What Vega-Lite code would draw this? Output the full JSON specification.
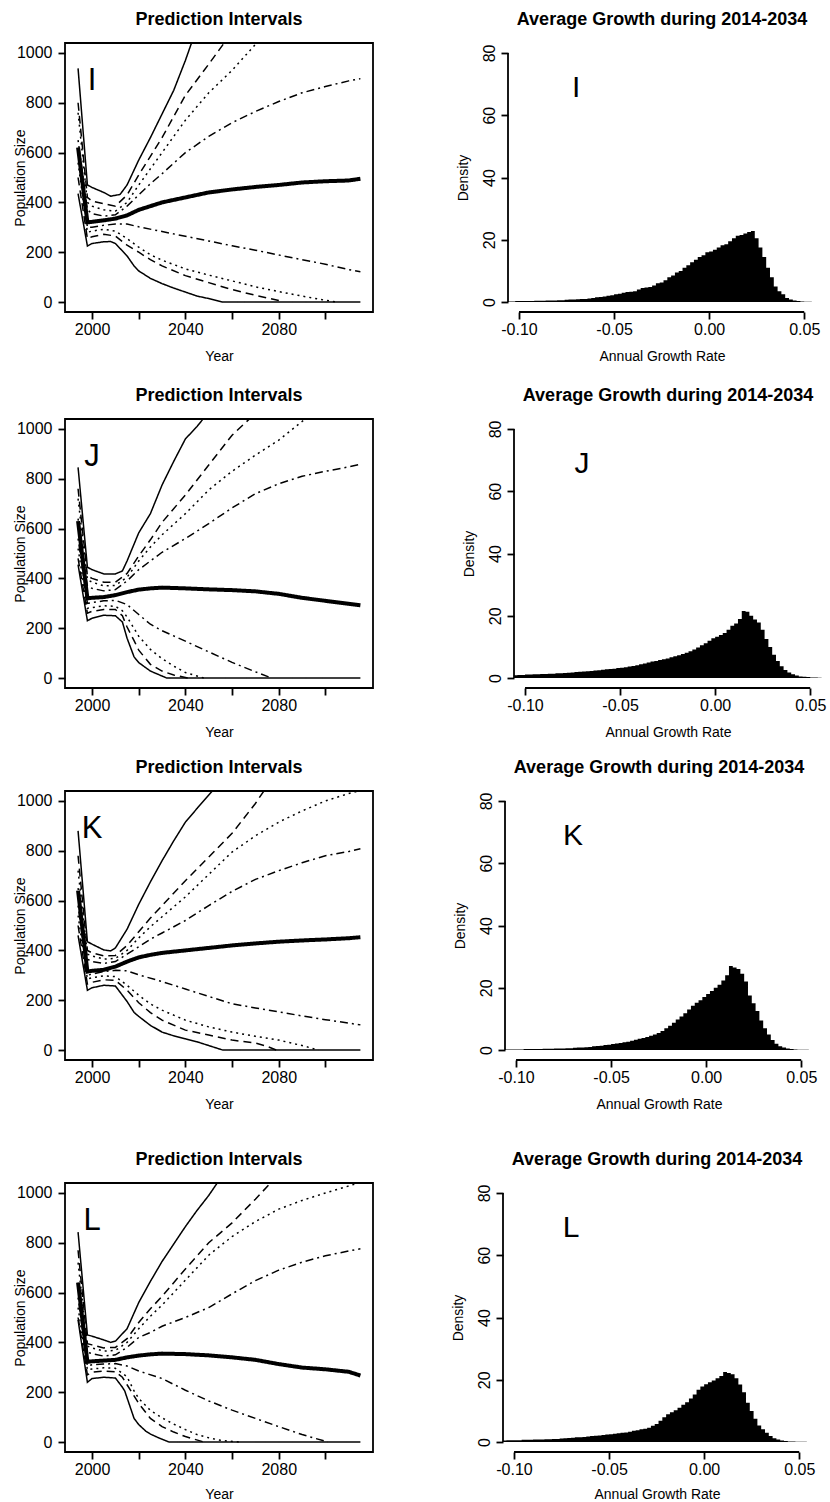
{
"$schema": "https://vega.github.io/schema/vega-lite/v6.json",
"background": "white",
"padding": {"left": 12, "top": 10, "right": 5, "bottom": 0},
"config": {
  "font": "Liberation Sans",
  "view": {"stroke": null},
  "axis": {"labelFont": "Liberation Sans", "titleFont": "Liberation Sans", "labelColor": "black", "titleColor": "black", "tickColor": "black", "tickWidth": 1.8, "tickSize": 7, "labelFontSize": 16, "titleFontSize": 14, "titleFontWeight": "normal", "grid": false, "labelOverlap": false, "labelFlush": false, "domain": false},
  "title": {"font": "Liberation Sans", "fontSize": 18, "fontWeight": "bold", "color": "black", "anchor": "middle", "frame": "group", "baseline": "alphabetic", "offset": 14}
},
"datasets": {
"lines": [
{"p":"I","q":"s+","x":1994,"y":938},{"p":"I","q":"s+","x":1998,"y":470},{"p":"I","q":"s+","x":2000,"y":460},{"p":"I","q":"s+","x":2005,"y":440},{"p":"I","q":"s+","x":2008,"y":425},{"p":"I","q":"s+","x":2012,"y":432},{"p":"I","q":"s+","x":2015,"y":470},{"p":"I","q":"s+","x":2020,"y":570},{"p":"I","q":"s+","x":2025,"y":660},{"p":"I","q":"s+","x":2030,"y":755},{"p":"I","q":"s+","x":2035,"y":850},{"p":"I","q":"s+","x":2040,"y":970},{"p":"I","q":"s+","x":2043,"y":1050},
{"p":"I","q":"d+","x":1994,"y":800},{"p":"I","q":"d+","x":1998,"y":420},{"p":"I","q":"d+","x":2000,"y":405},{"p":"I","q":"d+","x":2005,"y":395},{"p":"I","q":"d+","x":2010,"y":385},{"p":"I","q":"d+","x":2015,"y":430},{"p":"I","q":"d+","x":2020,"y":510},{"p":"I","q":"d+","x":2025,"y":585},{"p":"I","q":"d+","x":2030,"y":660},{"p":"I","q":"d+","x":2040,"y":830},{"p":"I","q":"d+","x":2050,"y":955},{"p":"I","q":"d+","x":2057,"y":1045},
{"p":"I","q":"p+","x":1994,"y":760},{"p":"I","q":"p+","x":1998,"y":400},{"p":"I","q":"p+","x":2000,"y":385},{"p":"I","q":"p+","x":2005,"y":370},{"p":"I","q":"p+","x":2010,"y":365},{"p":"I","q":"p+","x":2015,"y":400},{"p":"I","q":"p+","x":2020,"y":470},{"p":"I","q":"p+","x":2025,"y":535},{"p":"I","q":"p+","x":2030,"y":600},{"p":"I","q":"p+","x":2040,"y":730},{"p":"I","q":"p+","x":2050,"y":840},{"p":"I","q":"p+","x":2060,"y":930},{"p":"I","q":"p+","x":2071,"y":1045},
{"p":"I","q":"a+","x":1994,"y":650},{"p":"I","q":"a+","x":1998,"y":370},{"p":"I","q":"a+","x":2000,"y":355},{"p":"I","q":"a+","x":2005,"y":345},{"p":"I","q":"a+","x":2010,"y":350},{"p":"I","q":"a+","x":2015,"y":385},{"p":"I","q":"a+","x":2020,"y":430},{"p":"I","q":"a+","x":2025,"y":475},{"p":"I","q":"a+","x":2030,"y":515},{"p":"I","q":"a+","x":2040,"y":600},{"p":"I","q":"a+","x":2050,"y":665},{"p":"I","q":"a+","x":2060,"y":720},{"p":"I","q":"a+","x":2070,"y":765},{"p":"I","q":"a+","x":2080,"y":805},{"p":"I","q":"a+","x":2090,"y":840},{"p":"I","q":"a+","x":2100,"y":865},{"p":"I","q":"a+","x":2110,"y":888},{"p":"I","q":"a+","x":2115,"y":897},
{"p":"I","q":"m","x":1994,"y":620},{"p":"I","q":"m","x":1998,"y":320},{"p":"I","q":"m","x":2000,"y":322},{"p":"I","q":"m","x":2005,"y":328},{"p":"I","q":"m","x":2010,"y":335},{"p":"I","q":"m","x":2015,"y":348},{"p":"I","q":"m","x":2020,"y":370},{"p":"I","q":"m","x":2025,"y":385},{"p":"I","q":"m","x":2030,"y":400},{"p":"I","q":"m","x":2040,"y":420},{"p":"I","q":"m","x":2050,"y":440},{"p":"I","q":"m","x":2060,"y":452},{"p":"I","q":"m","x":2070,"y":462},{"p":"I","q":"m","x":2080,"y":470},{"p":"I","q":"m","x":2090,"y":480},{"p":"I","q":"m","x":2100,"y":485},{"p":"I","q":"m","x":2110,"y":488},{"p":"I","q":"m","x":2115,"y":495},
{"p":"I","q":"a-","x":1994,"y":600},{"p":"I","q":"a-","x":1998,"y":300},{"p":"I","q":"a-","x":2000,"y":300},{"p":"I","q":"a-","x":2005,"y":308},{"p":"I","q":"a-","x":2010,"y":313},{"p":"I","q":"a-","x":2015,"y":313},{"p":"I","q":"a-","x":2020,"y":302},{"p":"I","q":"a-","x":2030,"y":283},{"p":"I","q":"a-","x":2040,"y":264},{"p":"I","q":"a-","x":2050,"y":245},{"p":"I","q":"a-","x":2060,"y":226},{"p":"I","q":"a-","x":2070,"y":208},{"p":"I","q":"a-","x":2080,"y":189},{"p":"I","q":"a-","x":2090,"y":170},{"p":"I","q":"a-","x":2100,"y":152},{"p":"I","q":"a-","x":2110,"y":130},{"p":"I","q":"a-","x":2115,"y":122},
{"p":"I","q":"p-","x":1994,"y":560},{"p":"I","q":"p-","x":1998,"y":280},{"p":"I","q":"p-","x":2000,"y":285},{"p":"I","q":"p-","x":2005,"y":292},{"p":"I","q":"p-","x":2010,"y":285},{"p":"I","q":"p-","x":2015,"y":255},{"p":"I","q":"p-","x":2020,"y":220},{"p":"I","q":"p-","x":2025,"y":190},{"p":"I","q":"p-","x":2030,"y":168},{"p":"I","q":"p-","x":2040,"y":133},{"p":"I","q":"p-","x":2050,"y":108},{"p":"I","q":"p-","x":2060,"y":85},{"p":"I","q":"p-","x":2070,"y":61},{"p":"I","q":"p-","x":2080,"y":42},{"p":"I","q":"p-","x":2090,"y":24},{"p":"I","q":"p-","x":2100,"y":7},{"p":"I","q":"p-","x":2105,"y":0},
{"p":"I","q":"d-","x":1994,"y":500},{"p":"I","q":"d-","x":1998,"y":255},{"p":"I","q":"d-","x":2000,"y":262},{"p":"I","q":"d-","x":2005,"y":272},{"p":"I","q":"d-","x":2010,"y":265},{"p":"I","q":"d-","x":2015,"y":228},{"p":"I","q":"d-","x":2020,"y":200},{"p":"I","q":"d-","x":2025,"y":170},{"p":"I","q":"d-","x":2030,"y":145},{"p":"I","q":"d-","x":2040,"y":106},{"p":"I","q":"d-","x":2050,"y":78},{"p":"I","q":"d-","x":2060,"y":50},{"p":"I","q":"d-","x":2070,"y":27},{"p":"I","q":"d-","x":2080,"y":6},{"p":"I","q":"d-","x":2082,"y":0},
{"p":"I","q":"s-","x":1994,"y":435},{"p":"I","q":"s-","x":1998,"y":225},{"p":"I","q":"s-","x":2000,"y":235},{"p":"I","q":"s-","x":2005,"y":242},{"p":"I","q":"s-","x":2008,"y":243},{"p":"I","q":"s-","x":2010,"y":235},{"p":"I","q":"s-","x":2012,"y":215},{"p":"I","q":"s-","x":2015,"y":185},{"p":"I","q":"s-","x":2018,"y":145},{"p":"I","q":"s-","x":2020,"y":125},{"p":"I","q":"s-","x":2025,"y":95},{"p":"I","q":"s-","x":2030,"y":74},{"p":"I","q":"s-","x":2035,"y":56},{"p":"I","q":"s-","x":2040,"y":40},{"p":"I","q":"s-","x":2045,"y":24},{"p":"I","q":"s-","x":2050,"y":14},{"p":"I","q":"s-","x":2056,"y":0},{"p":"I","q":"s-","x":2115,"y":0},
{"p":"J","q":"s+","x":1994,"y":846},{"p":"J","q":"s+","x":1998,"y":445},{"p":"J","q":"s+","x":2000,"y":435},{"p":"J","q":"s+","x":2005,"y":418},{"p":"J","q":"s+","x":2010,"y":418},{"p":"J","q":"s+","x":2013,"y":430},{"p":"J","q":"s+","x":2015,"y":470},{"p":"J","q":"s+","x":2020,"y":583},{"p":"J","q":"s+","x":2025,"y":660},{"p":"J","q":"s+","x":2030,"y":775},{"p":"J","q":"s+","x":2035,"y":870},{"p":"J","q":"s+","x":2040,"y":960},{"p":"J","q":"s+","x":2045,"y":1010},{"p":"J","q":"s+","x":2048,"y":1045},
{"p":"J","q":"d+","x":1994,"y":760},{"p":"J","q":"d+","x":1998,"y":410},{"p":"J","q":"d+","x":2000,"y":400},{"p":"J","q":"d+","x":2005,"y":385},{"p":"J","q":"d+","x":2010,"y":385},{"p":"J","q":"d+","x":2015,"y":420},{"p":"J","q":"d+","x":2020,"y":490},{"p":"J","q":"d+","x":2025,"y":555},{"p":"J","q":"d+","x":2030,"y":625},{"p":"J","q":"d+","x":2040,"y":735},{"p":"J","q":"d+","x":2050,"y":855},{"p":"J","q":"d+","x":2060,"y":975},{"p":"J","q":"d+","x":2068,"y":1045},
{"p":"J","q":"p+","x":1994,"y":720},{"p":"J","q":"p+","x":1998,"y":395},{"p":"J","q":"p+","x":2000,"y":385},{"p":"J","q":"p+","x":2005,"y":370},{"p":"J","q":"p+","x":2010,"y":372},{"p":"J","q":"p+","x":2015,"y":405},{"p":"J","q":"p+","x":2020,"y":470},{"p":"J","q":"p+","x":2025,"y":526},{"p":"J","q":"p+","x":2030,"y":575},{"p":"J","q":"p+","x":2040,"y":660},{"p":"J","q":"p+","x":2050,"y":755},{"p":"J","q":"p+","x":2060,"y":830},{"p":"J","q":"p+","x":2070,"y":895},{"p":"J","q":"p+","x":2080,"y":955},{"p":"J","q":"p+","x":2090,"y":1030},{"p":"J","q":"p+","x":2092,"y":1045},
{"p":"J","q":"a+","x":1994,"y":640},{"p":"J","q":"a+","x":1998,"y":370},{"p":"J","q":"a+","x":2000,"y":360},{"p":"J","q":"a+","x":2005,"y":350},{"p":"J","q":"a+","x":2010,"y":355},{"p":"J","q":"a+","x":2015,"y":390},{"p":"J","q":"a+","x":2020,"y":435},{"p":"J","q":"a+","x":2025,"y":470},{"p":"J","q":"a+","x":2030,"y":505},{"p":"J","q":"a+","x":2040,"y":560},{"p":"J","q":"a+","x":2050,"y":620},{"p":"J","q":"a+","x":2060,"y":683},{"p":"J","q":"a+","x":2070,"y":740},{"p":"J","q":"a+","x":2080,"y":780},{"p":"J","q":"a+","x":2090,"y":810},{"p":"J","q":"a+","x":2100,"y":830},{"p":"J","q":"a+","x":2110,"y":848},{"p":"J","q":"a+","x":2115,"y":858},
{"p":"J","q":"m","x":1994,"y":630},{"p":"J","q":"m","x":1998,"y":320},{"p":"J","q":"m","x":2000,"y":322},{"p":"J","q":"m","x":2005,"y":325},{"p":"J","q":"m","x":2010,"y":333},{"p":"J","q":"m","x":2015,"y":345},{"p":"J","q":"m","x":2020,"y":355},{"p":"J","q":"m","x":2025,"y":360},{"p":"J","q":"m","x":2030,"y":363},{"p":"J","q":"m","x":2040,"y":360},{"p":"J","q":"m","x":2050,"y":356},{"p":"J","q":"m","x":2060,"y":353},{"p":"J","q":"m","x":2070,"y":348},{"p":"J","q":"m","x":2080,"y":338},{"p":"J","q":"m","x":2090,"y":322},{"p":"J","q":"m","x":2100,"y":310},{"p":"J","q":"m","x":2110,"y":298},{"p":"J","q":"m","x":2115,"y":292},
{"p":"J","q":"a-","x":1994,"y":560},{"p":"J","q":"a-","x":1998,"y":300},{"p":"J","q":"a-","x":2000,"y":303},{"p":"J","q":"a-","x":2005,"y":310},{"p":"J","q":"a-","x":2010,"y":312},{"p":"J","q":"a-","x":2015,"y":295},{"p":"J","q":"a-","x":2020,"y":255},{"p":"J","q":"a-","x":2025,"y":216},{"p":"J","q":"a-","x":2030,"y":190},{"p":"J","q":"a-","x":2040,"y":148},{"p":"J","q":"a-","x":2050,"y":105},{"p":"J","q":"a-","x":2060,"y":63},{"p":"J","q":"a-","x":2070,"y":25},{"p":"J","q":"a-","x":2077,"y":0},
{"p":"J","q":"p-","x":1994,"y":520},{"p":"J","q":"p-","x":1998,"y":280},{"p":"J","q":"p-","x":2000,"y":283},{"p":"J","q":"p-","x":2005,"y":290},{"p":"J","q":"p-","x":2010,"y":288},{"p":"J","q":"p-","x":2013,"y":270},{"p":"J","q":"p-","x":2015,"y":245},{"p":"J","q":"p-","x":2020,"y":168},{"p":"J","q":"p-","x":2025,"y":115},{"p":"J","q":"p-","x":2030,"y":78},{"p":"J","q":"p-","x":2035,"y":48},{"p":"J","q":"p-","x":2040,"y":22},{"p":"J","q":"p-","x":2048,"y":0},
{"p":"J","q":"d-","x":1994,"y":480},{"p":"J","q":"d-","x":1998,"y":260},{"p":"J","q":"d-","x":2000,"y":268},{"p":"J","q":"d-","x":2005,"y":275},{"p":"J","q":"d-","x":2010,"y":275},{"p":"J","q":"d-","x":2013,"y":250},{"p":"J","q":"d-","x":2015,"y":205},{"p":"J","q":"d-","x":2018,"y":150},{"p":"J","q":"d-","x":2020,"y":112},{"p":"J","q":"d-","x":2025,"y":55},{"p":"J","q":"d-","x":2030,"y":28},{"p":"J","q":"d-","x":2035,"y":12},{"p":"J","q":"d-","x":2041,"y":0},
{"p":"J","q":"s-","x":1994,"y":455},{"p":"J","q":"s-","x":1998,"y":230},{"p":"J","q":"s-","x":2000,"y":240},{"p":"J","q":"s-","x":2005,"y":252},{"p":"J","q":"s-","x":2010,"y":250},{"p":"J","q":"s-","x":2013,"y":225},{"p":"J","q":"s-","x":2015,"y":160},{"p":"J","q":"s-","x":2018,"y":85},{"p":"J","q":"s-","x":2020,"y":62},{"p":"J","q":"s-","x":2025,"y":28},{"p":"J","q":"s-","x":2030,"y":8},{"p":"J","q":"s-","x":2032,"y":0},{"p":"J","q":"s-","x":2115,"y":0},
{"p":"K","q":"s+","x":1994,"y":880},{"p":"K","q":"s+","x":1998,"y":435},{"p":"K","q":"s+","x":2000,"y":425},{"p":"K","q":"s+","x":2005,"y":402},{"p":"K","q":"s+","x":2008,"y":398},{"p":"K","q":"s+","x":2010,"y":410},{"p":"K","q":"s+","x":2015,"y":485},{"p":"K","q":"s+","x":2020,"y":585},{"p":"K","q":"s+","x":2025,"y":675},{"p":"K","q":"s+","x":2030,"y":760},{"p":"K","q":"s+","x":2035,"y":840},{"p":"K","q":"s+","x":2040,"y":915},{"p":"K","q":"s+","x":2045,"y":970},{"p":"K","q":"s+","x":2052,"y":1045},
{"p":"K","q":"d+","x":1994,"y":780},{"p":"K","q":"d+","x":1998,"y":400},{"p":"K","q":"d+","x":2000,"y":390},{"p":"K","q":"d+","x":2005,"y":378},{"p":"K","q":"d+","x":2010,"y":380},{"p":"K","q":"d+","x":2015,"y":420},{"p":"K","q":"d+","x":2020,"y":475},{"p":"K","q":"d+","x":2025,"y":530},{"p":"K","q":"d+","x":2030,"y":580},{"p":"K","q":"d+","x":2040,"y":680},{"p":"K","q":"d+","x":2050,"y":775},{"p":"K","q":"d+","x":2060,"y":870},{"p":"K","q":"d+","x":2070,"y":990},{"p":"K","q":"d+","x":2074,"y":1045},
{"p":"K","q":"p+","x":1994,"y":720},{"p":"K","q":"p+","x":1998,"y":385},{"p":"K","q":"p+","x":2000,"y":378},{"p":"K","q":"p+","x":2005,"y":365},{"p":"K","q":"p+","x":2010,"y":368},{"p":"K","q":"p+","x":2015,"y":400},{"p":"K","q":"p+","x":2020,"y":450},{"p":"K","q":"p+","x":2025,"y":495},{"p":"K","q":"p+","x":2030,"y":535},{"p":"K","q":"p+","x":2040,"y":615},{"p":"K","q":"p+","x":2050,"y":705},{"p":"K","q":"p+","x":2060,"y":795},{"p":"K","q":"p+","x":2070,"y":860},{"p":"K","q":"p+","x":2080,"y":915},{"p":"K","q":"p+","x":2090,"y":960},{"p":"K","q":"p+","x":2100,"y":1000},{"p":"K","q":"p+","x":2110,"y":1030},{"p":"K","q":"p+","x":2115,"y":1042},
{"p":"K","q":"a+","x":1994,"y":650},{"p":"K","q":"a+","x":1998,"y":365},{"p":"K","q":"a+","x":2000,"y":355},{"p":"K","q":"a+","x":2005,"y":348},{"p":"K","q":"a+","x":2010,"y":355},{"p":"K","q":"a+","x":2015,"y":385},{"p":"K","q":"a+","x":2020,"y":415},{"p":"K","q":"a+","x":2025,"y":445},{"p":"K","q":"a+","x":2030,"y":470},{"p":"K","q":"a+","x":2040,"y":520},{"p":"K","q":"a+","x":2050,"y":580},{"p":"K","q":"a+","x":2060,"y":637},{"p":"K","q":"a+","x":2070,"y":685},{"p":"K","q":"a+","x":2080,"y":720},{"p":"K","q":"a+","x":2090,"y":752},{"p":"K","q":"a+","x":2100,"y":780},{"p":"K","q":"a+","x":2110,"y":797},{"p":"K","q":"a+","x":2115,"y":808},
{"p":"K","q":"m","x":1994,"y":640},{"p":"K","q":"m","x":1998,"y":315},{"p":"K","q":"m","x":2000,"y":318},{"p":"K","q":"m","x":2005,"y":322},{"p":"K","q":"m","x":2010,"y":335},{"p":"K","q":"m","x":2015,"y":355},{"p":"K","q":"m","x":2020,"y":372},{"p":"K","q":"m","x":2025,"y":382},{"p":"K","q":"m","x":2030,"y":390},{"p":"K","q":"m","x":2040,"y":400},{"p":"K","q":"m","x":2050,"y":410},{"p":"K","q":"m","x":2060,"y":420},{"p":"K","q":"m","x":2070,"y":428},{"p":"K","q":"m","x":2080,"y":435},{"p":"K","q":"m","x":2090,"y":440},{"p":"K","q":"m","x":2100,"y":444},{"p":"K","q":"m","x":2110,"y":449},{"p":"K","q":"m","x":2115,"y":453},
{"p":"K","q":"a-","x":1994,"y":580},{"p":"K","q":"a-","x":1998,"y":300},{"p":"K","q":"a-","x":2000,"y":305},{"p":"K","q":"a-","x":2005,"y":315},{"p":"K","q":"a-","x":2010,"y":320},{"p":"K","q":"a-","x":2015,"y":318},{"p":"K","q":"a-","x":2020,"y":302},{"p":"K","q":"a-","x":2030,"y":275},{"p":"K","q":"a-","x":2040,"y":245},{"p":"K","q":"a-","x":2050,"y":215},{"p":"K","q":"a-","x":2060,"y":186},{"p":"K","q":"a-","x":2070,"y":169},{"p":"K","q":"a-","x":2080,"y":153},{"p":"K","q":"a-","x":2090,"y":137},{"p":"K","q":"a-","x":2100,"y":122},{"p":"K","q":"a-","x":2110,"y":108},{"p":"K","q":"a-","x":2115,"y":101},
{"p":"K","q":"p-","x":1994,"y":540},{"p":"K","q":"p-","x":1998,"y":285},{"p":"K","q":"p-","x":2000,"y":290},{"p":"K","q":"p-","x":2005,"y":298},{"p":"K","q":"p-","x":2010,"y":295},{"p":"K","q":"p-","x":2015,"y":260},{"p":"K","q":"p-","x":2020,"y":220},{"p":"K","q":"p-","x":2025,"y":185},{"p":"K","q":"p-","x":2030,"y":160},{"p":"K","q":"p-","x":2040,"y":120},{"p":"K","q":"p-","x":2050,"y":93},{"p":"K","q":"p-","x":2060,"y":72},{"p":"K","q":"p-","x":2070,"y":55},{"p":"K","q":"p-","x":2080,"y":40},{"p":"K","q":"p-","x":2090,"y":18},{"p":"K","q":"p-","x":2097,"y":0},
{"p":"K","q":"d-","x":1994,"y":500},{"p":"K","q":"d-","x":1998,"y":265},{"p":"K","q":"d-","x":2000,"y":272},{"p":"K","q":"d-","x":2005,"y":282},{"p":"K","q":"d-","x":2010,"y":280},{"p":"K","q":"d-","x":2015,"y":240},{"p":"K","q":"d-","x":2020,"y":190},{"p":"K","q":"d-","x":2025,"y":150},{"p":"K","q":"d-","x":2030,"y":120},{"p":"K","q":"d-","x":2040,"y":80},{"p":"K","q":"d-","x":2050,"y":60},{"p":"K","q":"d-","x":2060,"y":40},{"p":"K","q":"d-","x":2070,"y":28},{"p":"K","q":"d-","x":2075,"y":15},{"p":"K","q":"d-","x":2079,"y":0},
{"p":"K","q":"s-","x":1994,"y":460},{"p":"K","q":"s-","x":1998,"y":240},{"p":"K","q":"s-","x":2000,"y":250},{"p":"K","q":"s-","x":2005,"y":260},{"p":"K","q":"s-","x":2010,"y":257},{"p":"K","q":"s-","x":2015,"y":195},{"p":"K","q":"s-","x":2018,"y":151},{"p":"K","q":"s-","x":2020,"y":135},{"p":"K","q":"s-","x":2025,"y":99},{"p":"K","q":"s-","x":2030,"y":72},{"p":"K","q":"s-","x":2035,"y":57},{"p":"K","q":"s-","x":2040,"y":45},{"p":"K","q":"s-","x":2045,"y":33},{"p":"K","q":"s-","x":2050,"y":18},{"p":"K","q":"s-","x":2056,"y":0},{"p":"K","q":"s-","x":2115,"y":0},
{"p":"L","q":"s+","x":1994,"y":843},{"p":"L","q":"s+","x":1998,"y":430},{"p":"L","q":"s+","x":2000,"y":425},{"p":"L","q":"s+","x":2005,"y":410},{"p":"L","q":"s+","x":2008,"y":400},{"p":"L","q":"s+","x":2010,"y":405},{"p":"L","q":"s+","x":2015,"y":455},{"p":"L","q":"s+","x":2020,"y":560},{"p":"L","q":"s+","x":2025,"y":645},{"p":"L","q":"s+","x":2030,"y":725},{"p":"L","q":"s+","x":2035,"y":795},{"p":"L","q":"s+","x":2040,"y":865},{"p":"L","q":"s+","x":2045,"y":930},{"p":"L","q":"s+","x":2050,"y":990},{"p":"L","q":"s+","x":2054,"y":1045},
{"p":"L","q":"d+","x":1994,"y":770},{"p":"L","q":"d+","x":1998,"y":395},{"p":"L","q":"d+","x":2000,"y":390},{"p":"L","q":"d+","x":2005,"y":378},{"p":"L","q":"d+","x":2010,"y":380},{"p":"L","q":"d+","x":2015,"y":415},{"p":"L","q":"d+","x":2020,"y":480},{"p":"L","q":"d+","x":2025,"y":535},{"p":"L","q":"d+","x":2030,"y":585},{"p":"L","q":"d+","x":2040,"y":695},{"p":"L","q":"d+","x":2050,"y":800},{"p":"L","q":"d+","x":2060,"y":880},{"p":"L","q":"d+","x":2070,"y":975},{"p":"L","q":"d+","x":2077,"y":1045},
{"p":"L","q":"p+","x":1994,"y":720},{"p":"L","q":"p+","x":1998,"y":385},{"p":"L","q":"p+","x":2000,"y":378},{"p":"L","q":"p+","x":2005,"y":365},{"p":"L","q":"p+","x":2010,"y":368},{"p":"L","q":"p+","x":2015,"y":400},{"p":"L","q":"p+","x":2020,"y":455},{"p":"L","q":"p+","x":2025,"y":505},{"p":"L","q":"p+","x":2030,"y":550},{"p":"L","q":"p+","x":2040,"y":650},{"p":"L","q":"p+","x":2050,"y":750},{"p":"L","q":"p+","x":2060,"y":825},{"p":"L","q":"p+","x":2070,"y":885},{"p":"L","q":"p+","x":2080,"y":935},{"p":"L","q":"p+","x":2090,"y":970},{"p":"L","q":"p+","x":2100,"y":1000},{"p":"L","q":"p+","x":2110,"y":1028},{"p":"L","q":"p+","x":2115,"y":1042},
{"p":"L","q":"a+","x":1994,"y":640},{"p":"L","q":"a+","x":1998,"y":360},{"p":"L","q":"a+","x":2000,"y":355},{"p":"L","q":"a+","x":2005,"y":345},{"p":"L","q":"a+","x":2010,"y":350},{"p":"L","q":"a+","x":2015,"y":380},{"p":"L","q":"a+","x":2020,"y":420},{"p":"L","q":"a+","x":2025,"y":440},{"p":"L","q":"a+","x":2030,"y":465},{"p":"L","q":"a+","x":2040,"y":500},{"p":"L","q":"a+","x":2050,"y":540},{"p":"L","q":"a+","x":2060,"y":595},{"p":"L","q":"a+","x":2070,"y":648},{"p":"L","q":"a+","x":2080,"y":690},{"p":"L","q":"a+","x":2090,"y":722},{"p":"L","q":"a+","x":2100,"y":748},{"p":"L","q":"a+","x":2110,"y":767},{"p":"L","q":"a+","x":2115,"y":776},
{"p":"L","q":"m","x":1994,"y":640},{"p":"L","q":"m","x":1998,"y":322},{"p":"L","q":"m","x":2000,"y":324},{"p":"L","q":"m","x":2005,"y":327},{"p":"L","q":"m","x":2010,"y":330},{"p":"L","q":"m","x":2015,"y":340},{"p":"L","q":"m","x":2020,"y":347},{"p":"L","q":"m","x":2025,"y":352},{"p":"L","q":"m","x":2030,"y":355},{"p":"L","q":"m","x":2040,"y":353},{"p":"L","q":"m","x":2050,"y":348},{"p":"L","q":"m","x":2060,"y":340},{"p":"L","q":"m","x":2070,"y":330},{"p":"L","q":"m","x":2080,"y":313},{"p":"L","q":"m","x":2090,"y":299},{"p":"L","q":"m","x":2100,"y":292},{"p":"L","q":"m","x":2110,"y":282},{"p":"L","q":"m","x":2115,"y":267},
{"p":"L","q":"a-","x":1994,"y":580},{"p":"L","q":"a-","x":1998,"y":305},{"p":"L","q":"a-","x":2000,"y":310},{"p":"L","q":"a-","x":2005,"y":313},{"p":"L","q":"a-","x":2010,"y":315},{"p":"L","q":"a-","x":2015,"y":305},{"p":"L","q":"a-","x":2020,"y":285},{"p":"L","q":"a-","x":2030,"y":255},{"p":"L","q":"a-","x":2040,"y":208},{"p":"L","q":"a-","x":2050,"y":165},{"p":"L","q":"a-","x":2060,"y":128},{"p":"L","q":"a-","x":2070,"y":95},{"p":"L","q":"a-","x":2080,"y":62},{"p":"L","q":"a-","x":2090,"y":30},{"p":"L","q":"a-","x":2100,"y":3},{"p":"L","q":"a-","x":2101,"y":0},
{"p":"L","q":"p-","x":1994,"y":540},{"p":"L","q":"p-","x":1998,"y":290},{"p":"L","q":"p-","x":2000,"y":293},{"p":"L","q":"p-","x":2005,"y":298},{"p":"L","q":"p-","x":2010,"y":296},{"p":"L","q":"p-","x":2015,"y":262},{"p":"L","q":"p-","x":2018,"y":205},{"p":"L","q":"p-","x":2020,"y":175},{"p":"L","q":"p-","x":2025,"y":127},{"p":"L","q":"p-","x":2030,"y":97},{"p":"L","q":"p-","x":2035,"y":72},{"p":"L","q":"p-","x":2040,"y":50},{"p":"L","q":"p-","x":2045,"y":30},{"p":"L","q":"p-","x":2050,"y":17},{"p":"L","q":"p-","x":2055,"y":7},{"p":"L","q":"p-","x":2063,"y":0},
{"p":"L","q":"d-","x":1994,"y":500},{"p":"L","q":"d-","x":1998,"y":270},{"p":"L","q":"d-","x":2000,"y":280},{"p":"L","q":"d-","x":2005,"y":285},{"p":"L","q":"d-","x":2010,"y":282},{"p":"L","q":"d-","x":2013,"y":260},{"p":"L","q":"d-","x":2015,"y":230},{"p":"L","q":"d-","x":2020,"y":155},{"p":"L","q":"d-","x":2025,"y":95},{"p":"L","q":"d-","x":2030,"y":62},{"p":"L","q":"d-","x":2035,"y":40},{"p":"L","q":"d-","x":2040,"y":22},{"p":"L","q":"d-","x":2048,"y":0},
{"p":"L","q":"s-","x":1994,"y":490},{"p":"L","q":"s-","x":1998,"y":240},{"p":"L","q":"s-","x":2000,"y":255},{"p":"L","q":"s-","x":2005,"y":260},{"p":"L","q":"s-","x":2010,"y":257},{"p":"L","q":"s-","x":2013,"y":220},{"p":"L","q":"s-","x":2014,"y":205},{"p":"L","q":"s-","x":2016,"y":150},{"p":"L","q":"s-","x":2018,"y":95},{"p":"L","q":"s-","x":2020,"y":70},{"p":"L","q":"s-","x":2023,"y":44},{"p":"L","q":"s-","x":2025,"y":32},{"p":"L","q":"s-","x":2029,"y":15},{"p":"L","q":"s-","x":2033,"y":0},{"p":"L","q":"s-","x":2115,"y":0}
],
"hist": [
{"p":"I","b":-0.106,"d":0.2},{"p":"I","b":-0.104,"d":0.2},{"p":"I","b":-0.102,"d":0.3},{"p":"I","b":-0.1,"d":0.3},{"p":"I","b":-0.098,"d":0.3},{"p":"I","b":-0.096,"d":0.3},{"p":"I","b":-0.094,"d":0.3},{"p":"I","b":-0.092,"d":0.4},{"p":"I","b":-0.09,"d":0.4},{"p":"I","b":-0.088,"d":0.4},{"p":"I","b":-0.086,"d":0.5},{"p":"I","b":-0.084,"d":0.5},{"p":"I","b":-0.082,"d":0.5},{"p":"I","b":-0.08,"d":0.6},{"p":"I","b":-0.078,"d":0.6},{"p":"I","b":-0.076,"d":0.7},{"p":"I","b":-0.074,"d":0.8},{"p":"I","b":-0.072,"d":0.8},{"p":"I","b":-0.07,"d":0.9},{"p":"I","b":-0.068,"d":1.0},{"p":"I","b":-0.066,"d":1.0},{"p":"I","b":-0.064,"d":1.1},{"p":"I","b":-0.062,"d":1.3},{"p":"I","b":-0.06,"d":1.5},{"p":"I","b":-0.058,"d":1.6},{"p":"I","b":-0.056,"d":1.8},{"p":"I","b":-0.054,"d":2.0},{"p":"I","b":-0.052,"d":2.2},{"p":"I","b":-0.05,"d":2.5},{"p":"I","b":-0.048,"d":2.7},{"p":"I","b":-0.046,"d":3.0},{"p":"I","b":-0.044,"d":3.2},{"p":"I","b":-0.042,"d":3.3},{"p":"I","b":-0.04,"d":3.5},{"p":"I","b":-0.038,"d":4.0},{"p":"I","b":-0.036,"d":4.5},{"p":"I","b":-0.034,"d":4.7},{"p":"I","b":-0.032,"d":4.8},{"p":"I","b":-0.03,"d":5.3},{"p":"I","b":-0.028,"d":6.0},{"p":"I","b":-0.026,"d":6.3},{"p":"I","b":-0.024,"d":7.0},{"p":"I","b":-0.022,"d":8.0},{"p":"I","b":-0.02,"d":8.5},{"p":"I","b":-0.018,"d":9.5},{"p":"I","b":-0.016,"d":10.0},{"p":"I","b":-0.014,"d":11.0},{"p":"I","b":-0.012,"d":11.8},{"p":"I","b":-0.01,"d":12.8},{"p":"I","b":-0.008,"d":13.6},{"p":"I","b":-0.006,"d":14.5},{"p":"I","b":-0.004,"d":15.0},{"p":"I","b":-0.002,"d":16.0},{"p":"I","b":0,"d":16.2},{"p":"I","b":0.002,"d":16.8},{"p":"I","b":0.004,"d":17.5},{"p":"I","b":0.006,"d":18.2},{"p":"I","b":0.008,"d":18.6},{"p":"I","b":0.01,"d":19.5},{"p":"I","b":0.012,"d":20.5},{"p":"I","b":0.014,"d":21.3},{"p":"I","b":0.016,"d":21.5},{"p":"I","b":0.018,"d":22.0},{"p":"I","b":0.02,"d":22.5},{"p":"I","b":0.022,"d":22.8},{"p":"I","b":0.024,"d":20.5},{"p":"I","b":0.026,"d":17.5},{"p":"I","b":0.028,"d":14.5},{"p":"I","b":0.03,"d":11.0},{"p":"I","b":0.032,"d":8.0},{"p":"I","b":0.034,"d":5.0},{"p":"I","b":0.036,"d":3.5},{"p":"I","b":0.038,"d":2.5},{"p":"I","b":0.04,"d":1.3},{"p":"I","b":0.042,"d":0.8},{"p":"I","b":0.044,"d":0.5},{"p":"I","b":0.046,"d":0.3},{"p":"I","b":0.048,"d":0.2},{"p":"I","b":0.05,"d":0.1},{"p":"I","b":0.052,"d":0.1},{"p":"I","b":0.054,"d":0.05},{"p":"I","b":0.056,"d":0},
{"p":"J","b":-0.106,"d":0.9},{"p":"J","b":-0.104,"d":1.0},{"p":"J","b":-0.102,"d":1.0},{"p":"J","b":-0.1,"d":1.1},{"p":"J","b":-0.098,"d":1.1},{"p":"J","b":-0.096,"d":1.2},{"p":"J","b":-0.094,"d":1.2},{"p":"J","b":-0.092,"d":1.3},{"p":"J","b":-0.09,"d":1.3},{"p":"J","b":-0.088,"d":1.4},{"p":"J","b":-0.086,"d":1.4},{"p":"J","b":-0.084,"d":1.5},{"p":"J","b":-0.082,"d":1.5},{"p":"J","b":-0.08,"d":1.6},{"p":"J","b":-0.078,"d":1.7},{"p":"J","b":-0.076,"d":1.8},{"p":"J","b":-0.074,"d":1.9},{"p":"J","b":-0.072,"d":2.0},{"p":"J","b":-0.07,"d":2.1},{"p":"J","b":-0.068,"d":2.2},{"p":"J","b":-0.066,"d":2.3},{"p":"J","b":-0.064,"d":2.4},{"p":"J","b":-0.062,"d":2.5},{"p":"J","b":-0.06,"d":2.7},{"p":"J","b":-0.058,"d":2.8},{"p":"J","b":-0.056,"d":2.9},{"p":"J","b":-0.054,"d":3.0},{"p":"J","b":-0.052,"d":3.2},{"p":"J","b":-0.05,"d":3.3},{"p":"J","b":-0.048,"d":3.5},{"p":"J","b":-0.046,"d":3.7},{"p":"J","b":-0.044,"d":3.9},{"p":"J","b":-0.042,"d":4.1},{"p":"J","b":-0.04,"d":4.4},{"p":"J","b":-0.038,"d":4.7},{"p":"J","b":-0.036,"d":5.0},{"p":"J","b":-0.034,"d":5.3},{"p":"J","b":-0.032,"d":5.5},{"p":"J","b":-0.03,"d":5.8},{"p":"J","b":-0.028,"d":6.0},{"p":"J","b":-0.026,"d":6.3},{"p":"J","b":-0.024,"d":6.7},{"p":"J","b":-0.022,"d":7.0},{"p":"J","b":-0.02,"d":7.3},{"p":"J","b":-0.018,"d":7.7},{"p":"J","b":-0.016,"d":8.1},{"p":"J","b":-0.014,"d":8.6},{"p":"J","b":-0.012,"d":9.2},{"p":"J","b":-0.01,"d":9.8},{"p":"J","b":-0.008,"d":10.5},{"p":"J","b":-0.006,"d":11.2},{"p":"J","b":-0.004,"d":12.0},{"p":"J","b":-0.002,"d":12.8},{"p":"J","b":0,"d":13.3},{"p":"J","b":0.002,"d":13.8},{"p":"J","b":0.004,"d":14.5},{"p":"J","b":0.006,"d":15.5},{"p":"J","b":0.008,"d":16.8},{"p":"J","b":0.01,"d":17.5},{"p":"J","b":0.012,"d":19.0},{"p":"J","b":0.014,"d":21.5},{"p":"J","b":0.016,"d":21.3},{"p":"J","b":0.018,"d":20.0},{"p":"J","b":0.02,"d":18.8},{"p":"J","b":0.022,"d":17.8},{"p":"J","b":0.024,"d":15.5},{"p":"J","b":0.026,"d":12.5},{"p":"J","b":0.028,"d":10.0},{"p":"J","b":0.03,"d":7.5},{"p":"J","b":0.032,"d":5.5},{"p":"J","b":0.034,"d":3.8},{"p":"J","b":0.036,"d":2.6},{"p":"J","b":0.038,"d":1.8},{"p":"J","b":0.04,"d":1.2},{"p":"J","b":0.042,"d":0.8},{"p":"J","b":0.044,"d":0.5},{"p":"J","b":0.046,"d":0.4},{"p":"J","b":0.048,"d":0.3},{"p":"J","b":0.05,"d":0.2},{"p":"J","b":0.052,"d":0.2},{"p":"J","b":0.054,"d":0.1},{"p":"J","b":0.056,"d":0},
{"p":"K","b":-0.106,"d":0.2},{"p":"K","b":-0.104,"d":0.2},{"p":"K","b":-0.102,"d":0.2},{"p":"K","b":-0.1,"d":0.2},{"p":"K","b":-0.098,"d":0.2},{"p":"K","b":-0.096,"d":0.3},{"p":"K","b":-0.094,"d":0.3},{"p":"K","b":-0.092,"d":0.3},{"p":"K","b":-0.09,"d":0.3},{"p":"K","b":-0.088,"d":0.3},{"p":"K","b":-0.086,"d":0.4},{"p":"K","b":-0.084,"d":0.4},{"p":"K","b":-0.082,"d":0.4},{"p":"K","b":-0.08,"d":0.5},{"p":"K","b":-0.078,"d":0.5},{"p":"K","b":-0.076,"d":0.5},{"p":"K","b":-0.074,"d":0.6},{"p":"K","b":-0.072,"d":0.6},{"p":"K","b":-0.07,"d":0.7},{"p":"K","b":-0.068,"d":0.8},{"p":"K","b":-0.066,"d":0.8},{"p":"K","b":-0.064,"d":0.9},{"p":"K","b":-0.062,"d":1.0},{"p":"K","b":-0.06,"d":1.2},{"p":"K","b":-0.058,"d":1.3},{"p":"K","b":-0.056,"d":1.4},{"p":"K","b":-0.054,"d":1.6},{"p":"K","b":-0.052,"d":1.7},{"p":"K","b":-0.05,"d":1.9},{"p":"K","b":-0.048,"d":2.1},{"p":"K","b":-0.046,"d":2.3},{"p":"K","b":-0.044,"d":2.5},{"p":"K","b":-0.042,"d":2.7},{"p":"K","b":-0.04,"d":3.0},{"p":"K","b":-0.038,"d":3.3},{"p":"K","b":-0.036,"d":3.6},{"p":"K","b":-0.034,"d":3.9},{"p":"K","b":-0.032,"d":4.2},{"p":"K","b":-0.03,"d":4.6},{"p":"K","b":-0.028,"d":5.0},{"p":"K","b":-0.026,"d":5.5},{"p":"K","b":-0.024,"d":6.1},{"p":"K","b":-0.022,"d":7.0},{"p":"K","b":-0.02,"d":7.8},{"p":"K","b":-0.018,"d":8.8},{"p":"K","b":-0.016,"d":9.8},{"p":"K","b":-0.014,"d":10.8},{"p":"K","b":-0.012,"d":11.8},{"p":"K","b":-0.01,"d":13.0},{"p":"K","b":-0.008,"d":14.2},{"p":"K","b":-0.006,"d":15.2},{"p":"K","b":-0.004,"d":16.0},{"p":"K","b":-0.002,"d":17.0},{"p":"K","b":0,"d":18.0},{"p":"K","b":0.002,"d":19.0},{"p":"K","b":0.004,"d":20.0},{"p":"K","b":0.006,"d":21.0},{"p":"K","b":0.008,"d":22.3},{"p":"K","b":0.01,"d":24.0},{"p":"K","b":0.012,"d":27.0},{"p":"K","b":0.014,"d":26.5},{"p":"K","b":0.016,"d":26.0},{"p":"K","b":0.018,"d":24.5},{"p":"K","b":0.02,"d":22.0},{"p":"K","b":0.022,"d":17.5},{"p":"K","b":0.024,"d":15.0},{"p":"K","b":0.026,"d":12.5},{"p":"K","b":0.028,"d":9.5},{"p":"K","b":0.03,"d":7.0},{"p":"K","b":0.032,"d":5.0},{"p":"K","b":0.034,"d":3.2},{"p":"K","b":0.036,"d":2.0},{"p":"K","b":0.038,"d":1.2},{"p":"K","b":0.04,"d":0.8},{"p":"K","b":0.042,"d":0.5},{"p":"K","b":0.044,"d":0.3},{"p":"K","b":0.046,"d":0.2},{"p":"K","b":0.048,"d":0.1},{"p":"K","b":0.05,"d":0.1},{"p":"K","b":0.052,"d":0.1},{"p":"K","b":0.054,"d":0.05},{"p":"K","b":0.056,"d":0},
{"p":"L","b":-0.106,"d":0.5},{"p":"L","b":-0.104,"d":0.6},{"p":"L","b":-0.102,"d":0.6},{"p":"L","b":-0.1,"d":0.6},{"p":"L","b":-0.098,"d":0.6},{"p":"L","b":-0.096,"d":0.7},{"p":"L","b":-0.094,"d":0.7},{"p":"L","b":-0.092,"d":0.7},{"p":"L","b":-0.09,"d":0.8},{"p":"L","b":-0.088,"d":0.8},{"p":"L","b":-0.086,"d":0.8},{"p":"L","b":-0.084,"d":0.9},{"p":"L","b":-0.082,"d":0.9},{"p":"L","b":-0.08,"d":1.0},{"p":"L","b":-0.078,"d":1.0},{"p":"L","b":-0.076,"d":1.1},{"p":"L","b":-0.074,"d":1.2},{"p":"L","b":-0.072,"d":1.3},{"p":"L","b":-0.07,"d":1.4},{"p":"L","b":-0.068,"d":1.5},{"p":"L","b":-0.066,"d":1.5},{"p":"L","b":-0.064,"d":1.6},{"p":"L","b":-0.062,"d":1.8},{"p":"L","b":-0.06,"d":1.9},{"p":"L","b":-0.058,"d":2.0},{"p":"L","b":-0.056,"d":2.1},{"p":"L","b":-0.054,"d":2.3},{"p":"L","b":-0.052,"d":2.4},{"p":"L","b":-0.05,"d":2.5},{"p":"L","b":-0.048,"d":2.7},{"p":"L","b":-0.046,"d":2.8},{"p":"L","b":-0.044,"d":3.0},{"p":"L","b":-0.042,"d":3.1},{"p":"L","b":-0.04,"d":3.3},{"p":"L","b":-0.038,"d":3.6},{"p":"L","b":-0.036,"d":3.8},{"p":"L","b":-0.034,"d":4.1},{"p":"L","b":-0.032,"d":4.3},{"p":"L","b":-0.03,"d":4.6},{"p":"L","b":-0.028,"d":5.2},{"p":"L","b":-0.026,"d":5.8},{"p":"L","b":-0.024,"d":6.8},{"p":"L","b":-0.022,"d":8.0},{"p":"L","b":-0.02,"d":8.9},{"p":"L","b":-0.018,"d":9.6},{"p":"L","b":-0.016,"d":10.2},{"p":"L","b":-0.014,"d":11.0},{"p":"L","b":-0.012,"d":12.0},{"p":"L","b":-0.01,"d":12.8},{"p":"L","b":-0.008,"d":14.0},{"p":"L","b":-0.006,"d":15.3},{"p":"L","b":-0.004,"d":16.8},{"p":"L","b":-0.002,"d":17.8},{"p":"L","b":0,"d":18.6},{"p":"L","b":0.002,"d":19.2},{"p":"L","b":0.004,"d":19.8},{"p":"L","b":0.006,"d":20.5},{"p":"L","b":0.008,"d":21.2},{"p":"L","b":0.01,"d":22.5},{"p":"L","b":0.012,"d":22.2},{"p":"L","b":0.014,"d":21.8},{"p":"L","b":0.016,"d":20.5},{"p":"L","b":0.018,"d":18.5},{"p":"L","b":0.02,"d":16.0},{"p":"L","b":0.022,"d":12.6},{"p":"L","b":0.024,"d":10.0},{"p":"L","b":0.026,"d":7.5},{"p":"L","b":0.028,"d":5.3},{"p":"L","b":0.03,"d":4.1},{"p":"L","b":0.032,"d":3.0},{"p":"L","b":0.034,"d":1.9},{"p":"L","b":0.036,"d":1.2},{"p":"L","b":0.038,"d":0.8},{"p":"L","b":0.04,"d":0.5},{"p":"L","b":0.042,"d":0.3},{"p":"L","b":0.044,"d":0.2},{"p":"L","b":0.046,"d":0.2},{"p":"L","b":0.048,"d":0.1},{"p":"L","b":0.05,"d":0.1},{"p":"L","b":0.052,"d":0.1},{"p":"L","b":0.054,"d":0.05},{"p":"L","b":0.056,"d":0}
]
},
"spacing": 22,
"vconcat": [
{"spacing": 82, "hconcat": [
 {"width": 308, "height": 269, "title": "Prediction Intervals", "view": {"stroke": "black", "strokeWidth": 1.8},
  "layer": [
   {"data": {"name": "lines"}, "transform": [{"filter": "datum.p=='I'"}],
    "mark": {"type": "line", "clip": true, "color": "black"},
    "encoding": {
     "x": {"field": "x", "type": "quantitative", "scale": {"domain": [1988.4, 2120.4], "nice": false, "zero": false}, "axis": {"values": [2000,2020,2040,2060,2080,2100], "format": "d", "labelExpr": "datum.value % 40 == 0 ? datum.label : ''", "title": "Year", "labelPadding": 2, "titleY": 44, "titleBaseline": "middle"}},
     "y": {"field": "y", "type": "quantitative", "scale": {"domain": [-40, 1040], "nice": false, "zero": false}, "axis": {"values": [0,200,400,600,800,1000], "format": "d", "title": "Population Size", "labelAngle": 0, "labelPadding": 6, "titleX": -45, "titleBaseline": "middle"}},
     "detail": {"field": "q"},
     "strokeDash": {"field": "q", "type": "nominal", "legend": null, "scale": {"domain": ["s+","d+","p+","a+","m","a-","p-","d-","s-"], "range": [[1,0],[8,5],[2,4],[2,4,8,4],[1,0],[2,4,8,4],[2,4],[8,5],[1,0]]}},
     "strokeWidth": {"condition": {"test": "datum.q=='m'", "value": 4}, "value": 1.5}
    }},
   {"data": {"values": [{"t": "I"}]}, "mark": {"type": "text", "fontSize": 31, "align": "center", "baseline": "alphabetic", "color": "black"},
    "encoding": {"x": {"datum": 2000}, "y": {"datum": 852}, "text": {"field": "t"}}}
  ]},
 {"width": 308, "height": 269, "title": "Average Growth during 2014-2034",
  "layer": [
   {"data": {"name": "hist"}, "transform": [{"filter": "datum.p=='I'"}],
    "mark": {"type": "area", "interpolate": "step-after", "color": "black", "clip": true},
    "encoding": {
     "x": {"field": "b", "type": "quantitative", "scale": {"domain": [-0.1058, 0.0562], "nice": false, "zero": false}, "axis": {"values": [-0.1,-0.05,0,0.05], "labelExpr": "replace(format(datum.value,'.2f'),'−','-')", "title": "Annual Growth Rate", "labelPadding": 2, "titleY": 44, "titleBaseline": "middle"}},
     "y": {"field": "d", "type": "quantitative", "scale": {"domain": [-3.2, 83.2], "nice": false, "zero": false}, "axis": {"values": [0,20,40,60,80], "format": "d", "title": "Density", "labelAngle": 270, "labelPadding": 4, "titleX": -45, "titleBaseline": "middle"}},
     "y2": {"datum": 0}
    }},
   {"data": {"values": [{"t": "I"}]}, "mark": {"type": "text", "fontSize": 30, "align": "center", "baseline": "alphabetic", "color": "black"},
    "encoding": {"x": {"datum": -0.07}, "y": {"datum": 66}, "text": {"field": "t"}}},
   {"data": {"values": [{"k": 1}]}, "mark": {"type": "rule", "color": "black", "strokeWidth": 1.8}, "encoding": {"x": {"datum": -0.1}, "x2": {"datum": 0.05}, "y": {"datum": -3.2}}},
   {"data": {"values": [{"k": 1}]}, "mark": {"type": "rule", "color": "black", "strokeWidth": 1.8}, "encoding": {"x": {"datum": -0.1058}, "y": {"datum": 0}, "y2": {"datum": 80}}}
  ]}
]},
{"spacing": 18, "vconcat": [
{"spacing": 88, "hconcat": [
 {"width": 308, "height": 269, "title": "Prediction Intervals", "view": {"stroke": "black", "strokeWidth": 1.8},
  "layer": [
   {"data": {"name": "lines"}, "transform": [{"filter": "datum.p=='J'"}],
    "mark": {"type": "line", "clip": true, "color": "black"},
    "encoding": {
     "x": {"field": "x", "type": "quantitative", "scale": {"domain": [1988.4, 2120.4], "nice": false, "zero": false}, "axis": {"values": [2000,2020,2040,2060,2080,2100], "format": "d", "labelExpr": "datum.value % 40 == 0 ? datum.label : ''", "title": "Year", "labelPadding": 2, "titleY": 44, "titleBaseline": "middle"}},
     "y": {"field": "y", "type": "quantitative", "scale": {"domain": [-40, 1040], "nice": false, "zero": false}, "axis": {"values": [0,200,400,600,800,1000], "format": "d", "title": "Population Size", "labelAngle": 0, "labelPadding": 6, "titleX": -45, "titleBaseline": "middle"}},
     "detail": {"field": "q"},
     "strokeDash": {"field": "q", "type": "nominal", "legend": null, "scale": {"domain": ["s+","d+","p+","a+","m","a-","p-","d-","s-"], "range": [[1,0],[8,5],[2,4],[2,4,8,4],[1,0],[2,4,8,4],[2,4],[8,5],[1,0]]}},
     "strokeWidth": {"condition": {"test": "datum.q=='m'", "value": 4}, "value": 1.5}
    }},
   {"data": {"values": [{"t": "J"}]}, "mark": {"type": "text", "fontSize": 31, "align": "center", "baseline": "alphabetic", "color": "black"},
    "encoding": {"x": {"datum": 2000}, "y": {"datum": 852}, "text": {"field": "t"}}}
  ]},
 {"width": 308, "height": 269, "title": "Average Growth during 2014-2034",
  "layer": [
   {"data": {"name": "hist"}, "transform": [{"filter": "datum.p=='J'"}],
    "mark": {"type": "area", "interpolate": "step-after", "color": "black", "clip": true},
    "encoding": {
     "x": {"field": "b", "type": "quantitative", "scale": {"domain": [-0.1058, 0.0562], "nice": false, "zero": false}, "axis": {"values": [-0.1,-0.05,0,0.05], "labelExpr": "replace(format(datum.value,'.2f'),'−','-')", "title": "Annual Growth Rate", "labelPadding": 2, "titleY": 44, "titleBaseline": "middle"}},
     "y": {"field": "d", "type": "quantitative", "scale": {"domain": [-3.2, 83.2], "nice": false, "zero": false}, "axis": {"values": [0,20,40,60,80], "format": "d", "title": "Density", "labelAngle": 270, "labelPadding": 4, "titleX": -45, "titleBaseline": "middle"}},
     "y2": {"datum": 0}
    }},
   {"data": {"values": [{"t": "J"}]}, "mark": {"type": "text", "fontSize": 30, "align": "center", "baseline": "alphabetic", "color": "black"},
    "encoding": {"x": {"datum": -0.07}, "y": {"datum": 66}, "text": {"field": "t"}}},
   {"data": {"values": [{"k": 1}]}, "mark": {"type": "rule", "color": "black", "strokeWidth": 1.8}, "encoding": {"x": {"datum": -0.1}, "x2": {"datum": 0.05}, "y": {"datum": -3.2}}},
   {"data": {"values": [{"k": 1}]}, "mark": {"type": "rule", "color": "black", "strokeWidth": 1.8}, "encoding": {"x": {"datum": -0.1058}, "y": {"datum": 0}, "y2": {"datum": 80}}}
  ]}
]},
{"spacing": 38, "vconcat": [
{"spacing": 79, "hconcat": [
 {"width": 308, "height": 269, "title": "Prediction Intervals", "view": {"stroke": "black", "strokeWidth": 1.8},
  "layer": [
   {"data": {"name": "lines"}, "transform": [{"filter": "datum.p=='K'"}],
    "mark": {"type": "line", "clip": true, "color": "black"},
    "encoding": {
     "x": {"field": "x", "type": "quantitative", "scale": {"domain": [1988.4, 2120.4], "nice": false, "zero": false}, "axis": {"values": [2000,2020,2040,2060,2080,2100], "format": "d", "labelExpr": "datum.value % 40 == 0 ? datum.label : ''", "title": "Year", "labelPadding": 2, "titleY": 44, "titleBaseline": "middle"}},
     "y": {"field": "y", "type": "quantitative", "scale": {"domain": [-40, 1040], "nice": false, "zero": false}, "axis": {"values": [0,200,400,600,800,1000], "format": "d", "title": "Population Size", "labelAngle": 0, "labelPadding": 6, "titleX": -45, "titleBaseline": "middle"}},
     "detail": {"field": "q"},
     "strokeDash": {"field": "q", "type": "nominal", "legend": null, "scale": {"domain": ["s+","d+","p+","a+","m","a-","p-","d-","s-"], "range": [[1,0],[8,5],[2,4],[2,4,8,4],[1,0],[2,4,8,4],[2,4],[8,5],[1,0]]}},
     "strokeWidth": {"condition": {"test": "datum.q=='m'", "value": 4}, "value": 1.5}
    }},
   {"data": {"values": [{"t": "K"}]}, "mark": {"type": "text", "fontSize": 31, "align": "center", "baseline": "alphabetic", "color": "black"},
    "encoding": {"x": {"datum": 2000}, "y": {"datum": 852}, "text": {"field": "t"}}}
  ]},
 {"width": 308, "height": 269, "title": "Average Growth during 2014-2034",
  "layer": [
   {"data": {"name": "hist"}, "transform": [{"filter": "datum.p=='K'"}],
    "mark": {"type": "area", "interpolate": "step-after", "color": "black", "clip": true},
    "encoding": {
     "x": {"field": "b", "type": "quantitative", "scale": {"domain": [-0.1058, 0.0562], "nice": false, "zero": false}, "axis": {"values": [-0.1,-0.05,0,0.05], "labelExpr": "replace(format(datum.value,'.2f'),'−','-')", "title": "Annual Growth Rate", "labelPadding": 2, "titleY": 44, "titleBaseline": "middle"}},
     "y": {"field": "d", "type": "quantitative", "scale": {"domain": [-3.2, 83.2], "nice": false, "zero": false}, "axis": {"values": [0,20,40,60,80], "format": "d", "title": "Density", "labelAngle": 270, "labelPadding": 4, "titleX": -45, "titleBaseline": "middle"}},
     "y2": {"datum": 0}
    }},
   {"data": {"values": [{"t": "K"}]}, "mark": {"type": "text", "fontSize": 30, "align": "center", "baseline": "alphabetic", "color": "black"},
    "encoding": {"x": {"datum": -0.07}, "y": {"datum": 66}, "text": {"field": "t"}}},
   {"data": {"values": [{"k": 1}]}, "mark": {"type": "rule", "color": "black", "strokeWidth": 1.8}, "encoding": {"x": {"datum": -0.1}, "x2": {"datum": 0.05}, "y": {"datum": -3.2}}},
   {"data": {"values": [{"k": 1}]}, "mark": {"type": "rule", "color": "black", "strokeWidth": 1.8}, "encoding": {"x": {"datum": -0.1058}, "y": {"datum": 0}, "y2": {"datum": 80}}}
  ]}
]},
{"spacing": 77, "hconcat": [
 {"width": 308, "height": 269, "title": "Prediction Intervals", "view": {"stroke": "black", "strokeWidth": 1.8},
  "layer": [
   {"data": {"name": "lines"}, "transform": [{"filter": "datum.p=='L'"}],
    "mark": {"type": "line", "clip": true, "color": "black"},
    "encoding": {
     "x": {"field": "x", "type": "quantitative", "scale": {"domain": [1988.4, 2120.4], "nice": false, "zero": false}, "axis": {"values": [2000,2020,2040,2060,2080,2100], "format": "d", "labelExpr": "datum.value % 40 == 0 ? datum.label : ''", "title": "Year", "labelPadding": 2, "titleY": 42, "titleBaseline": "middle"}},
     "y": {"field": "y", "type": "quantitative", "scale": {"domain": [-40, 1040], "nice": false, "zero": false}, "axis": {"values": [0,200,400,600,800,1000], "format": "d", "title": "Population Size", "labelAngle": 0, "labelPadding": 6, "titleX": -45, "titleBaseline": "middle"}},
     "detail": {"field": "q"},
     "strokeDash": {"field": "q", "type": "nominal", "legend": null, "scale": {"domain": ["s+","d+","p+","a+","m","a-","p-","d-","s-"], "range": [[1,0],[8,5],[2,4],[2,4,8,4],[1,0],[2,4,8,4],[2,4],[8,5],[1,0]]}},
     "strokeWidth": {"condition": {"test": "datum.q=='m'", "value": 4}, "value": 1.5}
    }},
   {"data": {"values": [{"t": "L"}]}, "mark": {"type": "text", "fontSize": 31, "align": "center", "baseline": "alphabetic", "color": "black"},
    "encoding": {"x": {"datum": 2000}, "y": {"datum": 852}, "text": {"field": "t"}}}
  ]},
 {"width": 308, "height": 269, "title": "Average Growth during 2014-2034",
  "layer": [
   {"data": {"name": "hist"}, "transform": [{"filter": "datum.p=='L'"}],
    "mark": {"type": "area", "interpolate": "step-after", "color": "black", "clip": true},
    "encoding": {
     "x": {"field": "b", "type": "quantitative", "scale": {"domain": [-0.1058, 0.0562], "nice": false, "zero": false}, "axis": {"values": [-0.1,-0.05,0,0.05], "labelExpr": "replace(format(datum.value,'.2f'),'−','-')", "title": "Annual Growth Rate", "labelPadding": 2, "titleY": 42, "titleBaseline": "middle"}},
     "y": {"field": "d", "type": "quantitative", "scale": {"domain": [-3.2, 83.2], "nice": false, "zero": false}, "axis": {"values": [0,20,40,60,80], "format": "d", "title": "Density", "labelAngle": 270, "labelPadding": 4, "titleX": -45, "titleBaseline": "middle"}},
     "y2": {"datum": 0}
    }},
   {"data": {"values": [{"t": "L"}]}, "mark": {"type": "text", "fontSize": 30, "align": "center", "baseline": "alphabetic", "color": "black"},
    "encoding": {"x": {"datum": -0.07}, "y": {"datum": 66}, "text": {"field": "t"}}},
   {"data": {"values": [{"k": 1}]}, "mark": {"type": "rule", "color": "black", "strokeWidth": 1.8}, "encoding": {"x": {"datum": -0.1}, "x2": {"datum": 0.05}, "y": {"datum": -3.2}}},
   {"data": {"values": [{"k": 1}]}, "mark": {"type": "rule", "color": "black", "strokeWidth": 1.8}, "encoding": {"x": {"datum": -0.1058}, "y": {"datum": 0}, "y2": {"datum": 80}}}
  ]}
]}
]}
]}
]
}
